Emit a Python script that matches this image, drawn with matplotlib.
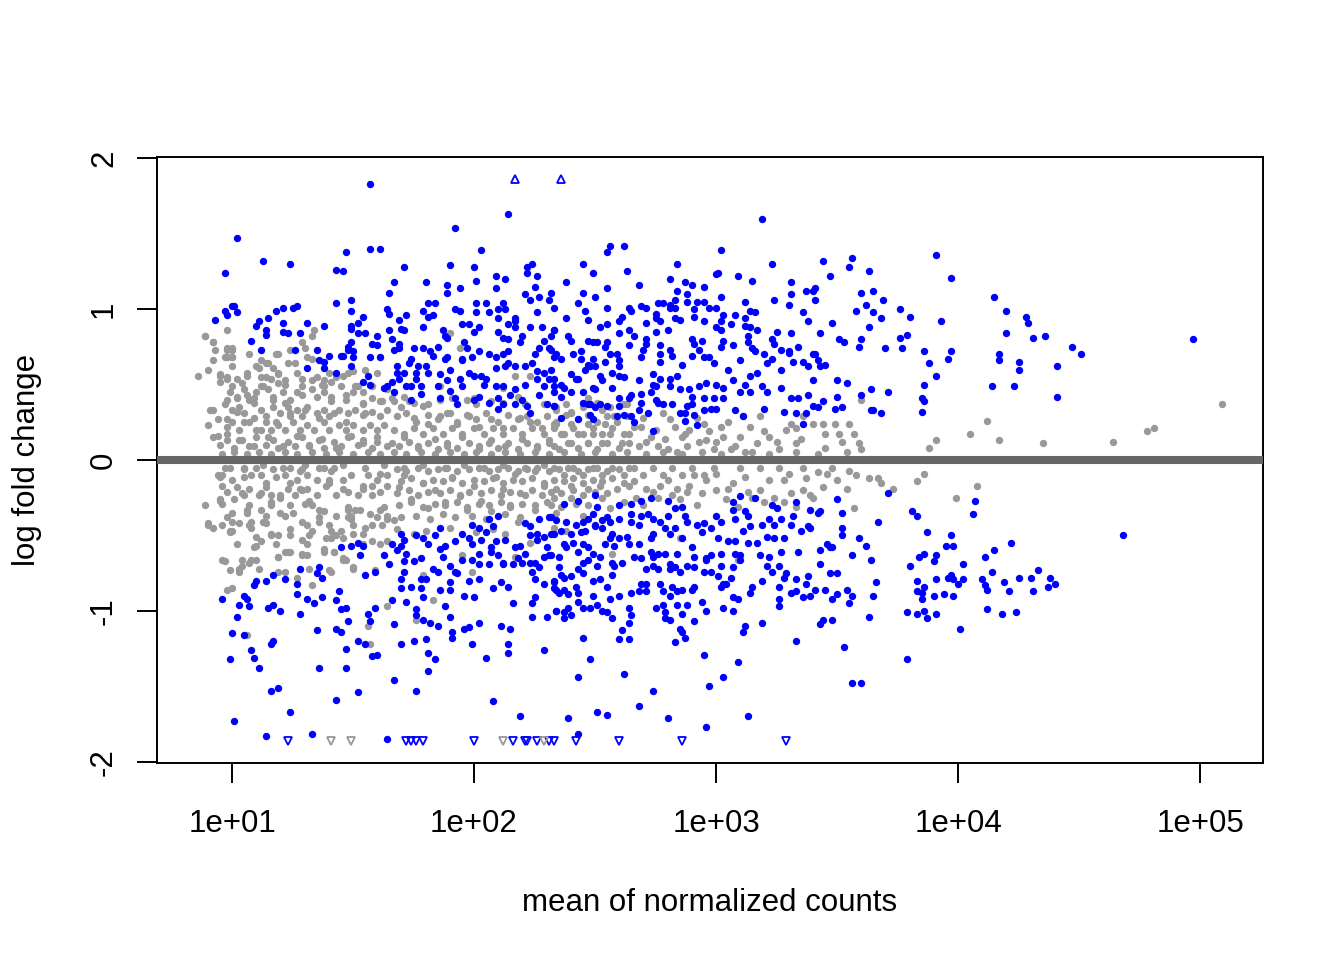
import numpy as np
import matplotlib.pyplot as plt
from matplotlib.ticker import NullLocator

plt.rcParams['font.family'] = ['Liberation Sans', 'DejaVu Sans']
plt.rcParams['axes.unicode_minus'] = False

# MA plot values: (log10 mean of normalized counts, log fold change)
gray_pts = [
    (0.86,0.56),(0.89,0.82),(0.92,0.78),(0.98,0.86),(0.93,0.73),(0.98,0.73),(1.00,0.73),(0.98,0.68),
    (1.00,0.68),(0.92,0.66),(0.90,0.60),(0.95,0.56),(0.98,0.54),(1.07,0.70),(1.02,0.54),(1.06,0.56),
    (1.00,0.49),(0.91,0.33),(0.90,0.23),(0.98,0.27),(1.02,0.41),(1.06,0.43),(1.02,0.32),(1.09,0.41),
    (1.11,0.61),(1.15,0.64),(1.18,0.70),(1.24,0.73),(1.26,0.64),(1.29,0.78),(1.30,0.74),(1.33,0.67),
    (1.34,0.86),(1.22,0.50),(1.13,0.49),(1.16,0.54),(1.19,0.57),(1.29,0.54),(1.33,0.53),(1.37,0.50),
    (1.38,0.45),(1.41,0.52),(1.46,0.56),(1.50,0.59),(1.55,0.60),(1.61,0.68),(1.51,0.49),(1.47,0.43),
    (1.41,0.39),(1.29,0.43),(1.22,0.38),(1.17,0.40),(1.09,0.28),(1.05,0.25),(1.12,0.20),(1.18,0.25),
    (1.24,0.31),(1.30,0.33),(1.36,0.28),(1.42,0.31),(1.47,0.25),(1.54,0.37),(1.55,0.31),(1.61,0.39),
    (1.66,0.41),(1.70,0.35),(1.73,0.39),(1.79,0.36),(1.75,0.28),(1.81,0.24),(1.86,0.29),(1.90,0.31),
    (1.93,0.24),(1.98,0.29),(2.02,0.22),(2.07,0.27),(2.12,0.21),(2.19,0.28),(2.23,0.25),(2.28,0.21),
    (2.33,0.24),(0.94,0.16),(0.98,0.17),(1.03,0.13),(1.09,0.09),(1.15,0.15),(1.21,0.09),(1.27,0.16),
    (1.32,0.09),(1.37,0.14),(1.43,0.08),(1.49,0.16),(1.54,0.11),(1.60,0.15),(1.66,0.11),(1.71,0.15),
    (1.77,0.09),(1.84,0.14),(1.89,0.09),(1.95,0.15),(2.02,0.09),(2.07,0.13),(2.13,0.09),(2.20,0.14),
    (2.26,0.09),(2.31,0.13),(1.90,0.84),(1.94,0.74),(2.17,0.56),(2.23,0.56),(2.00,0.41),(2.12,0.48),
    (2.21,0.37),(1.86,0.49),
    (0.89,-0.30),(0.90,-0.43),(0.92,-0.45),(0.95,-0.11),(0.96,-0.17),(0.95,-0.27),(0.98,-0.38),
    (0.97,-0.67),(0.98,-0.86),(1.00,-0.85),(0.99,-0.47),(1.02,-0.56),(1.03,-0.74),(1.00,-0.47),
    (1.02,-0.18),(1.04,-0.22),(1.06,-0.33),(1.08,-0.41),(1.10,-0.51),(1.08,-0.66),(1.10,-0.57),
    (1.04,-0.70),(1.12,-0.22),(1.14,-0.15),(1.16,-0.28),(1.14,-0.42),(1.16,-0.49),(1.18,-0.56),
    (1.19,-0.64),(1.19,-0.74),(1.22,-0.74),(1.22,-0.61),(1.24,-0.46),(1.22,-0.37),(1.20,-0.25),
    (1.24,-0.15),(1.28,-0.07),(1.29,-0.20),(1.32,-0.27),(1.33,-0.47),(1.31,-0.56),(1.29,-0.62),
    (1.33,-0.83),(1.27,-0.78),(1.36,-0.41),(1.38,-0.34),(1.40,-0.15),(1.41,-0.07),(1.46,-0.19),
    (1.48,-0.31),(1.49,-0.39),(1.45,-0.47),(1.41,-0.52),(1.38,-0.61),(1.41,-0.74),(1.50,-0.71),
    (1.46,-0.66),(1.55,-0.45),(1.51,-0.33),(1.54,-0.17),(1.58,-0.23),(1.61,-0.09),(1.60,-0.38),
    (1.63,-0.31),(1.67,-0.40),(1.69,-0.18),(1.71,-0.10),(1.74,-0.26),(1.79,-0.15),(1.81,-0.32),
    (1.84,-0.20),(1.88,-0.28),(1.91,-0.11),(1.94,-0.24),(1.97,-0.33),(2.00,-0.17),(2.03,-0.27),
    (2.07,-0.34),(2.12,-0.19),(2.15,-0.30),(2.18,-0.41),(2.21,-0.23),(2.25,-0.33),(2.29,-0.17),
    (2.32,-0.30),(2.09,-0.11),(2.17,-0.09),(2.25,-0.07),(1.56,-1.10),(1.57,-1.22),(1.64,-0.97),
    (1.76,-1.06),(1.83,-0.93),(1.79,-0.76),(1.95,-0.63),(1.99,-0.74),(2.17,-0.64),(2.23,-0.55),
    (2.13,-0.49),(1.59,-0.73),(1.46,-0.65),(1.75,-0.49),(1.06,-1.16),
    (0.97,-0.05),(1.05,-0.05),(1.13,-0.03),(1.21,-0.05),(1.30,-0.03),(1.38,-0.05),(1.46,-0.03),
    (1.55,-0.05),(1.63,-0.03),(1.71,-0.05),(1.79,-0.03),(1.88,-0.05),(1.96,-0.03),(2.04,-0.05),
    (2.12,-0.03),(2.21,-0.05),(2.29,-0.03),
    (2.47,0.41),(2.38,0.37),(2.34,0.33),(2.40,0.31),(2.53,0.33),(2.63,0.37),(2.58,0.29),(2.54,0.24),
    (2.47,0.24),(2.40,0.24),(2.34,0.24),(2.36,0.17),(2.43,0.17),(2.49,0.17),(2.56,0.17),(2.64,0.17),
    (2.69,0.22),(2.73,0.15),(2.61,0.11),(2.53,0.11),(2.47,0.11),(2.40,0.11),(2.33,0.09),(2.68,0.09),
    (2.76,0.09),(2.81,0.27),(2.86,0.15),(2.88,0.09),(2.95,0.24),(2.96,0.13),(3.03,0.15),(3.02,0.22),
    (3.06,0.07),(3.11,0.29),(3.14,0.22),(3.18,0.29),(3.17,0.11),(3.22,0.15),(3.26,0.07),(3.31,0.24),
    (3.33,0.21),(3.36,0.29),(3.40,0.24),(3.33,0.11),(3.44,0.24),(3.45,0.17),(3.49,0.24),(3.51,0.17),
    (3.55,0.24),(3.57,0.17),(3.59,0.11),(3.60,0.07),(3.60,0.40),(3.08,0.09),(2.99,0.07),(2.80,0.07),
    (2.89,0.20),
    (2.33,-0.05),(2.37,-0.10),(2.41,-0.05),(2.45,-0.10),(2.49,-0.05),(2.53,-0.10),(2.57,-0.05),
    (2.62,-0.10),(2.66,-0.05),(2.70,-0.10),(2.74,-0.05),(2.78,-0.10),(2.82,-0.05),(2.86,-0.10),
    (2.90,-0.05),(2.95,-0.10),(2.99,-0.05),(2.34,-0.19),(2.40,-0.17),(2.47,-0.19),(2.52,-0.17),
    (2.59,-0.19),(2.64,-0.17),(2.71,-0.19),(2.77,-0.17),(2.84,-0.19),(2.89,-0.17),(2.96,-0.13),
    (2.33,-0.25),(2.40,-0.25),(2.47,-0.30),(2.53,-0.25),(2.62,-0.28),(2.67,-0.25),(2.76,-0.25),
    (2.82,-0.23),(2.88,-0.21),(2.92,-0.30),(2.34,-0.35),(2.45,-0.37),(2.56,-0.32),(2.33,-0.45),
    (2.38,-0.47),(2.57,-0.62),(2.85,-0.52),(3.00,-0.20),(3.05,-0.19),(3.07,-0.15),(3.10,-0.05),
    (3.13,-0.21),(3.15,-0.25),(3.18,-0.20),(3.22,-0.13),(3.24,-0.25),(3.28,-0.13),(3.28,-0.28),
    (3.31,-0.22),(3.33,-0.31),(3.36,-0.20),(3.37,-0.12),(3.40,-0.25),(3.42,-0.08),(3.46,-0.09),
    (3.50,-0.13),(3.54,-0.19),(3.57,-0.32),(3.55,-0.07),(3.63,-0.12),(3.67,-0.12),(3.68,-0.15),
    (3.73,-0.19),(3.09,-0.31),(3.09,-0.66),(3.18,-0.05),(3.26,-0.05),(3.36,-0.05),(3.39,-0.23),
    (5.09,0.37),(4.81,0.21),(4.78,0.19),(4.64,0.12),(4.35,0.11),(4.17,0.13),(4.12,0.26),(4.05,0.17),
    (3.91,0.13),(3.88,0.08),(3.86,-0.09),(3.83,-0.14),(4.08,-0.17),(3.99,-0.25),
]

# the dense grey cloud at low and mid counts
gray_dense = [
    (0.89,0.82),(0.92,0.78),(0.98,0.74),(1.00,0.74),(0.97,0.68),(1.00,0.68),(1.19,0.70),(1.33,0.82),
    (0.95,0.57),(0.95,0.52),(0.98,0.55),(1.00,0.62),(1.04,0.51),(1.06,0.58),(1.10,0.62),(1.12,0.66),
    (1.14,0.64),(1.17,0.61),(1.12,0.55),(1.14,0.55),(1.19,0.58),(1.23,0.64),(1.27,0.58),(1.31,0.68),
    (1.35,0.55),(1.38,0.53),(1.40,0.58),(1.43,0.55),(1.48,0.58),(1.52,0.49),(1.54,0.45),(1.58,0.49),
    (1.60,0.58),(0.99,0.45),(1.02,0.42),(0.98,0.40),(1.05,0.47),(1.07,0.40),(1.10,0.45),(1.12,0.49),
    (1.15,0.47),(1.17,0.42),(1.19,0.51),(1.22,0.53),(1.21,0.45),(1.24,0.40),(1.27,0.45),(1.29,0.49),
    (1.33,0.47),(1.35,0.42),(1.38,0.49),(1.41,0.42),(1.45,0.49),(1.47,0.40),(1.50,0.45),(1.54,0.38),
    (1.58,0.41),(1.62,0.39),(1.64,0.47),(0.92,0.33),(0.97,0.37),(1.00,0.33),(1.03,0.35),(1.05,0.31),
    (1.09,0.38),(1.12,0.33),(1.14,0.29),(1.17,0.35),(1.20,0.31),(1.23,0.35),(1.24,0.29),(1.27,0.33),
    (1.29,0.29),(1.31,0.35),(1.35,0.31),(1.38,0.33),(1.40,0.29),(1.44,0.33),(1.48,0.31),(1.51,0.33),
    (1.54,0.30),(1.58,0.32),(1.61,0.29),(1.64,0.33),(0.94,0.27),(0.98,0.22),(1.00,0.25),(1.03,0.20),
    (1.07,0.25),(1.10,0.20),(1.14,0.25),(1.16,0.20),(1.19,0.23),(1.22,0.20),(1.25,0.25),(1.28,0.20),
    (1.31,0.23),(1.34,0.20),(1.38,0.25),(1.40,0.20),(1.44,0.23),(1.47,0.20),(1.50,0.23),(1.54,0.20),
    (1.57,0.23),(1.60,0.20),(1.63,0.23),(0.92,0.15),(0.95,0.10),(0.98,0.13),(1.01,0.08),(1.04,0.13),
    (1.07,0.09),(1.10,0.15),(1.14,0.10),(1.17,0.13),(1.19,0.08),(1.23,0.12),(1.26,0.09),(1.29,0.15),
    (1.32,0.10),(1.36,0.13),(1.38,0.08),(1.42,0.12),(1.45,0.09),(1.48,0.15),(1.52,0.10),(1.54,0.13),
    (1.58,0.08),(1.60,0.12),(1.64,0.09),
    (0.99,-0.05),(1.05,-0.06),(1.10,-0.05),(1.17,-0.06),(1.24,-0.05),(1.29,-0.06),(1.36,-0.05),
    (1.42,-0.05),(0.94,-0.10),(0.96,-0.10),(1.00,-0.13),(1.05,-0.11),(1.08,-0.10),(1.12,-0.10),
    (1.18,-0.11),(1.22,-0.10),(1.27,-0.13),(1.31,-0.10),(1.35,-0.13),(1.40,-0.13),(1.46,-0.13),
    (1.49,-0.10),(1.56,-0.10),(1.60,-0.13),(1.64,-0.10),(0.95,-0.26),(0.98,-0.21),(1.01,-0.26),
    (1.05,-0.23),(1.07,-0.19),(1.11,-0.23),(1.14,-0.18),(1.16,-0.23),(1.20,-0.23),(1.23,-0.19),
    (1.26,-0.23),(1.28,-0.19),(1.31,-0.19),(1.35,-0.23),(1.39,-0.17),(1.43,-0.23),(1.48,-0.21),
    (1.52,-0.23),(1.54,-0.19),(1.58,-0.17),(1.61,-0.21),(1.64,-0.17),(0.96,-0.29),(1.00,-0.35),
    (1.06,-0.35),(1.07,-0.30),(1.12,-0.33),(1.16,-0.30),(1.20,-0.35),(1.24,-0.30),(1.25,-0.35),
    (1.30,-0.29),(1.33,-0.30),(1.36,-0.33),(1.43,-0.37),(1.48,-0.33),(1.49,-0.37),(1.53,-0.33),
    (1.57,-0.36),(1.61,-0.33),(1.64,-0.37),(0.90,-0.42),(0.96,-0.43),(1.00,-0.41),(1.03,-0.42),
    (1.07,-0.43),(1.08,-0.45),(1.13,-0.41),(1.14,-0.37),(1.19,-0.50),(1.24,-0.50),(1.29,-0.41),
    (1.31,-0.43),(1.36,-0.38),(1.40,-0.43),(1.41,-0.47),(1.43,-0.50),(1.48,-0.38),(1.50,-0.43),
    (1.54,-0.49),(1.58,-0.43),(1.62,-0.43),(1.64,-0.39),(0.99,-0.48),(1.09,-0.58),(1.12,-0.54),
    (1.16,-0.50),(1.24,-0.61),(1.29,-0.53),(1.32,-0.50),(1.39,-0.52),(1.42,-0.61),(1.46,-0.52),
    (1.50,-0.49),(1.54,-0.56),(1.58,-0.54),(1.61,-0.56),(1.64,-0.54),(0.96,-0.66),(0.99,-0.73),
    (1.03,-0.72),(1.04,-0.66),(1.07,-0.68),(1.10,-0.66),(1.11,-0.72),(1.19,-0.64),(1.23,-0.61),
    (1.29,-0.63),(1.31,-0.63),(1.32,-0.72),(1.38,-0.59),(1.40,-0.73),(1.42,-0.61),(1.47,-0.66),
    (1.50,-0.72),
    (1.67,0.39),(1.71,0.42),(1.75,0.38),(1.81,0.37),(1.86,0.40),(1.91,0.41),(1.97,0.40),(2.01,0.37),
    (2.07,0.39),(2.12,0.38),(2.18,0.42),(2.29,0.37),(2.34,0.35),(2.40,0.32),(2.45,0.35),(2.51,0.38),
    (2.56,0.35),(2.62,0.37),(1.68,0.29),(1.72,0.31),(1.76,0.25),(1.81,0.30),(1.85,0.27),(1.89,0.31),
    (1.93,0.25),(1.97,0.30),(2.01,0.27),(2.05,0.31),(2.10,0.25),(2.14,0.30),(2.18,0.27),(2.22,0.29),
    (2.26,0.25),(2.30,0.29),(2.34,0.25),(2.38,0.30),(2.43,0.27),(2.47,0.30),(2.51,0.25),(2.55,0.29),
    (2.59,0.25),(2.63,0.29),(1.67,0.20),(1.71,0.17),(1.75,0.21),(1.79,0.17),(1.83,0.21),(1.87,0.17),
    (1.91,0.21),(1.95,0.17),(2.00,0.21),(2.04,0.17),(2.08,0.21),(2.12,0.17),(2.16,0.21),(2.20,0.17),
    (2.24,0.21),(2.29,0.17),(2.33,0.21),(2.37,0.17),(2.41,0.21),(2.45,0.17),(2.49,0.21),(2.53,0.17),
    (2.57,0.21),(2.62,0.17),(1.69,0.09),(1.73,0.12),(1.77,0.08),(1.81,0.11),(1.85,0.07),(1.89,0.11),
    (1.93,0.08),(1.98,0.11),(2.02,0.07),(2.06,0.11),(2.10,0.08),(2.14,0.11),(2.18,0.07),(2.22,0.11),
    (2.26,0.08),(2.31,0.11),(2.35,0.07),(2.39,0.11),(2.43,0.08),(2.47,0.11),(2.51,0.07),(2.55,0.11),
    (2.60,0.08),(2.64,0.11),
    (1.68,-0.06),(1.72,-0.07),(1.77,-0.05),(1.81,-0.07),(1.85,-0.06),(1.89,-0.05),(1.93,-0.07),
    (1.98,-0.06),(2.02,-0.05),(2.06,-0.07),(2.10,-0.06),(2.14,-0.05),(2.18,-0.07),(2.22,-0.06),
    (2.26,-0.05),(2.31,-0.07),(2.35,-0.06),(2.39,-0.05),(2.43,-0.07),(2.47,-0.06),(2.51,-0.05),
    (2.55,-0.07),(2.60,-0.06),(2.64,-0.05),(1.70,-0.14),(1.74,-0.12),(1.79,-0.15),(1.83,-0.13),
    (1.87,-0.14),(1.91,-0.12),(1.95,-0.15),(2.00,-0.13),(2.04,-0.14),(2.08,-0.12),(2.12,-0.15),
    (2.16,-0.13),(2.20,-0.14),(2.24,-0.12),(2.29,-0.15),(2.33,-0.13),(2.37,-0.14),(2.41,-0.12),
    (2.45,-0.15),(2.49,-0.13),(2.53,-0.14),(2.57,-0.12),(2.62,-0.15),(1.68,-0.22),(1.73,-0.20),
    (1.77,-0.23),(1.81,-0.21),(1.86,-0.22),(1.90,-0.20),(1.94,-0.23),(1.98,-0.21),(2.03,-0.22),
    (2.07,-0.20),(2.11,-0.23),(2.15,-0.21),(2.19,-0.22),(2.24,-0.20),(2.28,-0.23),(2.32,-0.21),
    (2.36,-0.22),(2.41,-0.20),(2.45,-0.23),(2.50,-0.21),(2.55,-0.22),(1.69,-0.30),(1.74,-0.28),
    (1.79,-0.31),(1.84,-0.29),(1.88,-0.30),(1.93,-0.28),(1.97,-0.31),(2.02,-0.29),(2.06,-0.30),
    (2.11,-0.28),(2.15,-0.31),(2.20,-0.29),(2.25,-0.30),(2.30,-0.28),(2.36,-0.31),(2.42,-0.29),
    (1.70,-0.38),(1.76,-0.37),(1.82,-0.39),(1.87,-0.36),(1.92,-0.38),(1.99,-0.37),(2.05,-0.39),
    (2.13,-0.36),(2.19,-0.38),(1.68,-0.46),(1.80,-0.47),(1.90,-0.45),(2.01,-0.48),(2.08,-0.46),
    (2.66,0.22),(2.70,0.28),(2.75,0.20),(2.78,0.31),(2.83,0.22),(2.87,0.17),(2.92,0.28),(2.97,0.19),
    (3.00,0.12),(3.05,0.25),(3.10,0.15),(3.15,0.05),(2.71,0.12),(2.79,0.14),(2.84,0.05),(2.93,0.12),
    (3.20,0.19),(3.25,0.12),(3.29,0.20),(3.35,0.14),(3.45,0.08),(3.52,0.12),
    (3.00,-0.09),(3.04,-0.26),(3.12,-0.11),(3.20,-0.28),(3.30,-0.09),(3.44,-0.18),(3.48,-0.05),
    (3.58,-0.10),(2.66,-0.14),(2.74,-0.21),(2.80,-0.13),(2.91,-0.10),(2.94,-0.22),(2.70,-0.30),
    (2.85,-0.26),
    (0.96,0.04),(1.01,0.05),(1.06,0.04),(1.11,0.05),(1.16,0.04),(1.22,0.05),(1.27,0.04),(1.33,0.05),
    (1.39,0.04),(1.44,0.05),(1.50,0.04),(1.56,0.05),(1.61,0.04),(1.67,0.05),(1.72,0.04),(1.78,0.05),
    (1.84,0.04),(1.90,0.05),(1.96,0.04),(2.01,0.05),(2.07,0.04),(2.13,0.05),(2.19,0.04),(2.25,0.05),
    (2.31,0.04),(2.37,0.05),(2.44,0.04),(2.50,0.05),(2.57,0.04),(2.63,0.05),(2.71,0.04),(2.78,0.05),
    (2.86,0.04),(2.94,0.05),(3.02,0.04),(3.12,0.05),(3.22,0.04),(3.33,0.05),(3.42,0.04),(3.54,0.05),
]

blue_pts = [
    # up, low counts
    (1.57,1.83),(2.14,1.63),(1.92,1.54),(1.02,1.47),(1.57,1.40),(1.61,1.40),(2.03,1.39),(1.47,1.38),
    (1.13,1.32),(1.24,1.30),(0.97,1.24),(1.43,1.26),(1.46,1.25),(1.71,1.28),(1.90,1.29),(2.00,1.28),
    (2.22,1.28),(2.24,1.30),(2.22,1.24),(2.26,1.22),(2.09,1.22),(2.13,1.20),(2.01,1.19),(1.67,1.18),
    (1.80,1.18),(1.89,1.16),(2.25,1.15),(1.94,1.14),(2.09,1.14),(1.65,1.11),(1.89,1.11),(2.21,1.10),
    (2.32,1.11),(2.27,1.08),(2.23,1.06),(1.43,1.04),(1.49,1.06),(1.81,1.04),(1.84,1.04),(2.01,1.04),
    (2.05,1.04),(2.12,1.04),(2.31,1.06),(1.21,1.01),(1.25,1.01),(1.27,1.02),(1.01,1.02),(1.00,1.02),
    (0.97,0.99),(1.02,0.98),(0.98,0.96),(1.18,0.99),(1.49,0.99),(1.64,1.00),(1.65,0.97),(1.79,0.99),
    (1.83,0.96),(1.92,1.00),(1.94,0.99),(2.10,1.00),(2.13,1.00),(2.26,0.98),(2.01,0.98),(2.06,0.98),
    (0.93,0.93),(1.15,0.94),(1.21,0.91),(1.31,0.91),(1.38,0.89),(1.11,0.92),(1.10,0.89),(1.52,0.91),
    (1.54,0.95),(1.69,0.93),(1.72,0.96),(1.81,0.95),(2.10,0.94),(2.14,0.90),(2.17,0.94),(2.17,0.92),
    (1.95,0.90),(1.98,0.90),(1.14,0.86),(1.14,0.83),(1.21,0.85),(1.23,0.84),(1.28,0.84),(1.49,0.87),
    (1.49,0.89),(1.52,0.84),(1.55,0.84),(1.65,0.86),(1.70,0.87),(1.71,0.86),(1.79,0.88),(1.87,0.86),
    (1.88,0.82),(1.89,0.81),(2.00,0.85),(2.02,0.88),(2.10,0.85),(2.12,0.81),(2.14,0.80),(2.17,0.88),
    (2.20,0.82),(2.23,0.88),(2.28,0.88),(2.33,0.86),(1.08,0.79),(1.60,0.82),(1.66,0.80),(1.69,0.77),
    (1.58,0.77),(1.60,0.76),(1.49,0.78),(1.48,0.75),(1.48,0.73),(1.50,0.72),(1.50,0.68),(1.46,0.69),
    (1.49,0.62),(1.45,0.69),(1.40,0.69),(1.38,0.65),(1.38,0.61),(1.36,0.66),(1.35,0.73),(1.31,0.61),
    (1.26,0.73),(1.12,0.73),(1.43,0.58),(1.57,0.68),(1.61,0.68),(1.67,0.73),(1.69,0.74),(1.75,0.74),
    (1.79,0.74),(1.82,0.72),(1.85,0.75),(1.83,0.69),(1.88,0.67),(1.89,0.68),(1.95,0.67),(1.95,0.66),
    (1.96,0.78),(1.97,0.74),(1.99,0.68),(2.02,0.72),(2.06,0.70),(2.09,0.68),(2.12,0.70),(2.14,0.72),
    (2.19,0.78),(2.25,0.70),(2.27,0.74),(2.29,0.79),(2.31,0.74),(2.33,0.68),(1.74,0.67),(1.73,0.64),
    (1.77,0.62),(1.80,0.62),(1.68,0.62),(1.68,0.58),(1.71,0.58),(1.76,0.58),(1.81,0.58),(1.86,0.57),
    (1.90,0.60),(1.98,0.58),(2.03,0.56),(2.05,0.54),(2.09,0.61),(2.13,0.62),(2.14,0.64),(2.17,0.62),
    (2.21,0.62),(2.24,0.64),(2.26,0.59),(2.29,0.58),(2.32,0.60),(1.56,0.56),(1.54,0.52),(1.57,0.50),
    (1.66,0.52),(1.69,0.54),(1.76,0.54),(1.78,0.49),(1.85,0.49),(1.89,0.53),(1.94,0.54),(1.95,0.49),
    (2.00,0.56),(2.04,0.50),(2.09,0.49),(2.12,0.49),(2.17,0.47),(2.21,0.50),(2.26,0.54),(2.29,0.49),
    (2.33,0.54),(1.64,0.49),(1.63,0.48),(1.67,0.45),(1.72,0.49),(1.74,0.49),(1.78,0.44),(1.86,0.41),
    (1.90,0.46),(1.92,0.41),(1.93,0.37),(2.00,0.40),(2.02,0.42),(2.06,0.38),(2.10,0.41),(2.12,0.37),
    (2.15,0.43),(2.17,0.37),(2.20,0.40),(2.22,0.36),(2.23,0.31),(2.27,0.43),(2.30,0.37),(2.33,0.36),
    (1.74,0.40),(2.10,0.34),
    # up, mid counts
    (3.19,1.60),(2.56,1.42),(2.55,1.38),(2.62,1.42),(3.02,1.39),(2.45,1.30),(2.84,1.30),(3.23,1.30),
    (3.44,1.32),(3.56,1.34),(3.55,1.28),(2.49,1.24),(2.63,1.25),(3.00,1.23),(3.01,1.24),(3.09,1.22),
    (3.47,1.22),(3.63,1.25),(2.38,1.18),(2.81,1.20),(2.87,1.18),(3.15,1.19),(3.31,1.18),(2.68,1.16),
    (2.90,1.16),(2.95,1.15),(2.55,1.14),(2.45,1.11),(2.84,1.12),(2.88,1.10),(3.31,1.10),(3.37,1.12),
    (3.40,1.12),(3.41,1.14),(3.60,1.11),(3.65,1.12),(2.50,1.08),(2.43,1.04),(2.76,1.04),(2.78,1.04),
    (2.81,1.03),(2.83,1.06),(2.88,1.05),(2.92,1.05),(2.95,1.05),(3.02,1.08),(3.12,1.05),(3.24,1.06),
    (3.30,1.03),(3.41,1.06),(3.62,1.03),(3.69,1.06),(2.33,1.01),(2.46,0.99),(2.55,1.01),(2.64,1.01),
    (2.65,0.99),(2.69,1.02),(2.71,1.01),(2.75,0.97),(2.75,0.94),(2.77,0.92),(2.81,1.01),(2.83,1.01),
    (2.91,1.00),(2.91,0.95),(2.97,1.01),(3.00,1.01),(3.03,0.96),(3.08,0.96),(3.14,0.99),(3.16,0.98),
    (3.36,0.98),(3.58,0.99),(3.65,0.98),(3.76,1.00),(2.38,0.94),(2.47,0.93),(2.60,0.92),(2.61,0.95),
    (2.71,0.91),(2.83,0.94),(2.85,0.93),(2.95,0.92),(3.02,0.92),(3.06,0.90),(3.12,0.94),(3.38,0.92),
    (3.48,0.91),(3.68,0.94),(2.33,0.86),(2.52,0.88),(2.55,0.90),(2.60,0.84),(2.64,0.86),(2.66,0.82),
    (2.75,0.85),(2.80,0.86),(3.00,0.88),(3.02,0.86),(3.12,0.89),(3.14,0.88),(3.17,0.86),(3.25,0.85),
    (3.31,0.84),(3.43,0.84),(3.63,0.88),(2.32,0.82),(2.39,0.82),(2.40,0.79),(2.47,0.79),(2.49,0.78),
    (2.51,0.78),(2.54,0.75),(2.55,0.78),(2.64,0.76),(2.71,0.80),(2.71,0.77),(2.77,0.76),(2.81,0.73),
    (2.90,0.80),(2.91,0.77),(2.93,0.73),(2.94,0.79),(3.03,0.79),(3.02,0.75),(3.07,0.76),(3.13,0.82),
    (3.13,0.78),(3.15,0.74),(3.16,0.72),(3.23,0.80),(3.24,0.77),(3.27,0.73),(3.30,0.72),(3.34,0.75),
    (3.51,0.80),(3.53,0.78),(3.60,0.80),(3.59,0.75),(3.70,0.74),(3.77,0.74),(3.86,0.72),(3.79,0.83),
    (3.76,0.81),(2.32,0.73),(2.34,0.70),(2.36,0.67),(2.41,0.70),(2.44,0.72),(2.44,0.67),(2.49,0.67),
    (2.56,0.70),(2.59,0.70),(2.60,0.66),(2.54,0.65),(2.60,0.62),(2.69,0.68),(2.70,0.73),(2.77,0.70),
    (2.77,0.65),(2.82,0.69),(2.86,0.63),(2.90,0.69),(2.95,0.68),(2.97,0.68),(2.99,0.64),(3.05,0.60),
    (3.10,0.66),(3.14,0.56),(3.17,0.58),(3.20,0.70),(3.21,0.64),(3.23,0.67),(3.27,0.60),(3.30,0.71),
    (3.32,0.65),(3.36,0.65),(3.38,0.62),(3.40,0.70),(3.41,0.70),(3.42,0.66),(3.43,0.62),(3.45,0.63),
    (3.50,0.53),(3.54,0.51),(2.31,0.54),(2.33,0.49),(2.36,0.50),(2.37,0.48),(2.40,0.57),(2.42,0.54),
    (2.43,0.54),(2.46,0.60),(2.47,0.63),(2.48,0.62),(2.50,0.62),(2.52,0.56),(2.53,0.53),(2.57,0.58),
    (2.60,0.56),(2.62,0.55),(2.68,0.53),(2.74,0.57),(2.74,0.50),(2.75,0.49),(2.77,0.54),(2.81,0.49),
    (2.81,0.54),(2.84,0.56),(2.85,0.47),(2.89,0.47),(2.93,0.49),(2.96,0.51),(3.00,0.50),(3.03,0.48),
    (3.07,0.53),(3.10,0.45),(3.12,0.50),(3.14,0.45),(3.19,0.49),(3.21,0.45),(3.27,0.48),(3.31,0.41),
    (3.34,0.41),(3.38,0.43),(3.40,0.53),(3.50,0.42),(3.60,0.43),(3.64,0.47),(3.71,0.45),(2.33,0.45),
    (2.36,0.42),(2.40,0.45),(2.45,0.45),(2.49,0.48),(2.50,0.47),(2.57,0.48),(2.60,0.41),(2.64,0.41),
    (2.65,0.43),(2.69,0.44),(2.69,0.38),(2.73,0.45),(2.75,0.40),(2.76,0.38),(2.78,0.37),(2.82,0.37),
    (2.88,0.36),(2.90,0.42),(2.90,0.37),(2.95,0.41),(2.99,0.41),(3.03,0.41),(2.98,0.34),(3.00,0.34),
    (3.08,0.33),(3.20,0.34),(3.28,0.32),(3.33,0.31),(3.37,0.31),(3.40,0.36),(3.42,0.35),(3.44,0.39),
    (3.49,0.34),(3.52,0.35),(3.64,0.33),(3.65,0.33),(3.68,0.31),(2.33,0.36),(2.36,0.28),(2.45,0.38),
    (2.48,0.37),(2.50,0.35),(2.52,0.37),(2.55,0.36),(2.59,0.29),(2.60,0.36),(2.62,0.30),(2.65,0.29),
    (2.66,0.25),(2.68,0.33),(2.72,0.31),(2.74,0.19),(2.85,0.31),(2.87,0.26),(2.87,0.31),(2.91,0.30),
    (2.92,0.23),(2.95,0.33),(3.11,0.29),(2.48,0.30),(2.49,0.27),(2.43,0.27),(3.36,0.24),(2.47,0.37),
    # up, high counts
    (3.91,1.36),(3.97,1.21),(3.80,0.95),(3.93,0.92),(3.97,0.72),(3.96,0.67),(3.88,0.64),(3.91,0.56),
    (3.86,0.50),(3.85,0.41),(3.86,0.39),(3.85,0.32),(4.15,1.08),(4.20,0.99),(4.28,0.95),(4.29,0.91),
    (4.20,0.84),(4.31,0.81),(4.36,0.82),(4.47,0.75),(4.51,0.70),(4.17,0.70),(4.17,0.66),(4.25,0.65),
    (4.25,0.60),(4.41,0.62),(4.14,0.49),(4.23,0.49),(4.41,0.42),(4.97,0.80),
    # down, low counts
    (0.96,-0.92),(0.99,-1.32),(1.00,-1.15),(1.01,-1.73),(1.02,-1.04),(1.03,-0.96),(1.05,-0.90),
    (1.06,-0.92),(1.07,-0.97),(1.05,-1.16),(1.08,-1.26),(1.09,-1.31),(1.11,-1.38),(1.14,-1.83),
    (1.16,-1.53),(1.19,-1.51),(1.15,-0.98),(1.17,-0.96),(1.20,-1.00),(1.16,-1.22),(1.17,-1.20),
    (1.24,-1.67),(1.33,-1.82),(1.28,-1.02),(1.27,-0.89),(1.31,-0.92),(1.34,-0.95),(1.37,-0.91),
    (1.35,-1.13),(1.36,-1.38),(1.43,-0.93),(1.44,-0.87),(1.45,-0.99),(1.47,-0.98),(1.43,-1.12),
    (1.45,-1.14),(1.48,-1.07),(1.47,-1.25),(1.47,-1.38),(1.43,-1.59),(1.52,-1.54),(1.52,-1.20),
    (1.55,-1.22),(1.56,-1.02),(1.57,-1.07),(1.59,-0.98),(1.58,-1.30),(1.60,-1.29),(1.66,-0.93),
    (1.67,-1.09),(1.67,-1.46),(1.70,-1.22),(1.72,-0.94),(1.75,-1.20),(1.76,-1.53),(1.76,-0.99),
    (1.76,-1.03),(1.79,-0.91),(1.80,-1.19),(1.81,-1.28),(1.81,-1.40),(1.84,-1.32),(1.79,-1.06),
    (1.82,-1.08),(1.85,-1.10),(1.88,-0.97),(1.90,-1.04),(1.91,-1.14),(1.91,-1.18),(1.96,-1.12),
    (1.98,-1.11),(1.99,-1.22),(2.02,-1.08),(2.05,-1.31),(2.08,-1.60),(2.11,-1.10),(2.14,-1.28),
    (2.14,-1.22),(2.16,-0.95),(2.15,-1.12),(2.19,-1.70),(2.24,-0.95),(2.25,-0.91),(2.24,-1.04),
    (2.30,-1.04),(2.29,-1.26),(2.34,-1.00),(1.09,-0.83),(1.10,-0.80),(1.14,-0.80),(1.17,-0.76),
    (1.22,-0.79),(1.28,-0.72),(1.27,-0.82),(1.35,-0.75),(1.36,-0.71),(1.37,-0.78),(1.45,-0.58),
    (1.49,-0.57),(1.52,-0.55),(1.53,-0.63),(1.54,-0.57),(1.55,-0.76),(1.59,-0.74),(1.63,-0.63),
    (1.65,-0.69),(1.68,-0.60),(1.66,-0.56),(1.70,-0.57),(1.70,-0.49),(1.72,-0.62),(1.71,-0.67),
    (1.75,-0.67),(1.78,-0.65),(1.71,-0.74),(1.70,-0.79),(1.70,-0.85),(1.74,-0.84),(1.78,-0.79),
    (1.80,-0.79),(1.78,-0.85),(1.83,-0.72),(1.85,-0.74),(1.87,-0.64),(1.86,-0.59),(1.88,-0.57),
    (1.92,-0.54),(1.95,-0.49),(1.98,-0.52),(1.99,-0.56),(1.90,-0.70),(1.92,-0.74),(1.93,-0.75),
    (1.95,-0.66),(1.99,-0.66),(2.02,-0.62),(2.02,-0.69),(1.98,-0.80),(2.02,-0.79),(2.06,-0.69),
    (2.07,-0.61),(2.10,-0.63),(2.12,-0.69),(2.12,-0.68),(2.16,-0.69),(2.08,-0.85),(2.11,-0.81),
    (2.14,-0.84),(1.90,-0.81),(1.86,-0.86),(1.90,-0.86),(1.96,-0.90),(2.00,-0.91),(1.76,-0.50),
    (1.79,-0.52),(1.81,-0.56),(1.84,-0.50),(1.86,-0.45),(1.71,-0.53),(1.99,-0.43),(2.02,-0.45),
    (2.06,-0.39),(2.10,-0.37),(2.08,-0.44),(2.05,-0.48),(2.03,-0.53),(2.09,-0.54),(2.07,-0.58),
    (2.13,-0.53),(2.17,-0.58),(2.19,-0.57),(2.21,-0.42),(2.23,-0.44),(2.26,-0.49),(2.26,-0.53),
    (2.29,-0.51),(2.30,-0.58),(2.31,-0.63),(2.27,-0.39),(2.31,-0.38),(2.33,-0.49),(2.23,-0.68),
    (2.25,-0.68),(2.27,-0.71),(2.29,-0.64),(2.24,-0.74),(2.25,-0.79),(2.29,-0.82),(2.33,-0.81),
    (2.34,-0.86),(2.20,-0.68),(2.21,-0.62),(2.18,-0.65),(2.23,-0.50),(1.64,-1.85),
    # down, mid counts
    (2.37,-0.29),(2.43,-0.27),(2.50,-0.23),(2.51,-0.31),(2.60,-0.30),(2.65,-0.29),(2.69,-0.27),
    (2.73,-0.25),(2.80,-0.27),(2.83,-0.32),(2.86,-0.31),(3.07,-0.28),(3.10,-0.24),(3.07,-0.33),
    (3.16,-0.25),(3.23,-0.30),(3.25,-0.32),(3.33,-0.28),(3.39,-0.33),(3.50,-0.26),(3.52,-0.35),
    (3.71,-0.22),(2.32,-0.38),(2.34,-0.40),(2.38,-0.41),(2.42,-0.43),(2.45,-0.41),(2.47,-0.39),
    (2.49,-0.36),(2.50,-0.43),(2.53,-0.40),(2.55,-0.38),(2.56,-0.41),(2.60,-0.39),(2.65,-0.36),
    (2.65,-0.41),(2.68,-0.43),(2.69,-0.37),(2.72,-0.36),(2.74,-0.39),(2.77,-0.41),(2.80,-0.37),
    (2.87,-0.37),(2.88,-0.41),(2.92,-0.43),(2.95,-0.42),(3.00,-0.37),(3.02,-0.41),(3.08,-0.39),
    (3.12,-0.34),(3.13,-0.37),(3.19,-0.43),(3.22,-0.39),(3.24,-0.43),(3.27,-0.39),(3.31,-0.43),
    (3.32,-0.37),(3.42,-0.35),(3.43,-0.34),(3.52,-0.45),(3.67,-0.41),(2.32,-0.49),(2.36,-0.47),
    (2.40,-0.49),(2.44,-0.48),(2.46,-0.47),(2.50,-0.44),(2.53,-0.45),(2.57,-0.49),(2.60,-0.52),
    (2.63,-0.51),(2.64,-0.56),(2.68,-0.56),(2.74,-0.49),(2.73,-0.52),(2.79,-0.45),(2.81,-0.49),
    (2.86,-0.52),(2.83,-0.45),(2.94,-0.48),(2.98,-0.45),(3.01,-0.52),(3.05,-0.54),(3.08,-0.54),
    (3.11,-0.47),(3.13,-0.55),(3.14,-0.44),(3.17,-0.55),(3.21,-0.51),(3.24,-0.52),(3.28,-0.52),
    (3.35,-0.47),(3.38,-0.44),(3.39,-0.45),(3.46,-0.56),(3.48,-0.58),(3.52,-0.50),(3.59,-0.52),
    (3.62,-0.57),(2.32,-0.63),(2.35,-0.64),(2.37,-0.56),(2.38,-0.58),(2.41,-0.55),(2.43,-0.61),
    (2.45,-0.56),(2.47,-0.58),(2.49,-0.62),(2.47,-0.66),(2.52,-0.64),(2.54,-0.56),(2.56,-0.52),
    (2.57,-0.68),(2.58,-0.57),(2.61,-0.68),(2.66,-0.64),(2.69,-0.65),(2.73,-0.61),(2.74,-0.64),
    (2.76,-0.62),(2.79,-0.62),(2.84,-0.62),(2.90,-0.58),(2.91,-0.64),(2.96,-0.65),(2.98,-0.63),
    (3.02,-0.62),(3.08,-0.62),(3.10,-0.63),(3.10,-0.66),(3.18,-0.63),(3.22,-0.64),(3.27,-0.61),
    (3.34,-0.61),(3.43,-0.60),(3.47,-0.58),(3.56,-0.63),(3.64,-0.66),(2.33,-0.80),(2.35,-0.71),
    (2.36,-0.76),(2.37,-0.78),(2.40,-0.77),(2.43,-0.72),(2.45,-0.68),(2.45,-0.75),(2.49,-0.80),
    (2.51,-0.70),(2.52,-0.79),(2.57,-0.76),(2.58,-0.70),(2.69,-0.82),(2.71,-0.72),(2.74,-0.70),
    (2.76,-0.72),(2.77,-0.82),(2.81,-0.72),(2.81,-0.69),(2.83,-0.71),(2.85,-0.74),(2.88,-0.70),
    (2.91,-0.71),(2.95,-0.74),(2.96,-0.66),(2.98,-0.74),(3.01,-0.77),(3.02,-0.70),(3.03,-0.82),
    (3.06,-0.78),(3.07,-0.71),(3.15,-0.84),(3.19,-0.80),(3.21,-0.70),(3.23,-0.74),(3.26,-0.70),
    (3.28,-0.78),(3.29,-0.75),(3.33,-0.79),(3.37,-0.82),(3.38,-0.77),(3.43,-0.69),(3.47,-0.75),
    (3.50,-0.75),(3.66,-0.81),(2.33,-0.85),(2.35,-0.88),(2.37,-0.86),(2.39,-0.89),(2.42,-0.84),
    (2.43,-0.88),(2.49,-0.90),(2.55,-0.84),(2.56,-0.92),(2.60,-0.90),(2.65,-0.88),(2.68,-0.87),
    (2.71,-0.87),(2.71,-0.82),(2.78,-0.87),(2.81,-0.90),(2.82,-0.84),(2.84,-0.87),(2.86,-0.86),
    (2.90,-0.86),(2.91,-0.84),(3.02,-0.84),(3.04,-0.82),(3.07,-0.91),(3.09,-0.92),(3.14,-0.88),
    (3.26,-0.84),(3.26,-0.92),(3.31,-0.88),(3.33,-0.87),(3.36,-0.91),(3.39,-0.90),(3.41,-0.86),
    (3.45,-0.86),(3.48,-0.92),(3.50,-0.89),(3.54,-0.86),(3.56,-0.90),(3.55,-0.95),(3.65,-0.90),
    (2.34,-1.00),(2.37,-1.01),(2.37,-1.05),(2.40,-1.03),(2.39,-0.98),(2.43,-0.94),(2.45,-0.98),
    (2.48,-0.98),(2.51,-0.96),(2.53,-1.00),(2.55,-1.01),(2.57,-1.05),(2.64,-0.98),(2.65,-1.03),
    (2.64,-1.08),(2.75,-0.98),(2.78,-0.96),(2.79,-1.01),(2.79,-1.05),(2.81,-1.06),(2.84,-0.96),
    (2.86,-1.02),(2.88,-0.96),(2.91,-1.07),(2.94,-0.94),(2.96,-1.00),(3.03,-0.98),(3.07,-1.00),
    (3.12,-1.10),(3.11,-1.14),(3.19,-1.08),(3.26,-0.97),(3.43,-1.09),(3.44,-1.06),(3.48,-1.06),
    (3.63,-1.04),(2.61,-1.13),(2.64,-1.19),(2.60,-1.19),(2.45,-1.18),(2.48,-1.32),(2.43,-1.44),
    (2.62,-1.42),(2.74,-1.53),(2.68,-1.63),(2.51,-1.67),(2.55,-1.69),(2.39,-1.71),(2.43,-1.82),
    (2.80,-1.71),(2.85,-1.12),(2.86,-1.14),(2.83,-1.21),(2.87,-1.18),(2.95,-1.29),(2.97,-1.50),
    (2.96,-1.77),(3.03,-1.44),(3.09,-1.34),(3.13,-1.70),(3.33,-1.20),(3.53,-1.24),(3.56,-1.48),
    (3.60,-1.48),
    # down, high counts
    (4.07,-0.27),(4.06,-0.36),(3.81,-0.34),(3.83,-0.37),(4.68,-0.50),(3.87,-0.48),(3.97,-0.50),
    (4.22,-0.55),(3.95,-0.57),(3.98,-0.57),(4.15,-0.60),(4.11,-0.64),(3.91,-0.63),(3.84,-0.64),
    (3.86,-0.62),(3.90,-0.67),(3.80,-0.70),(4.02,-0.69),(4.14,-0.74),(4.33,-0.73),(3.83,-0.80),
    (3.91,-0.79),(3.96,-0.78),(3.97,-0.76),(3.98,-0.79),(4.02,-0.79),(4.00,-0.82),(4.10,-0.79),
    (4.11,-0.83),(4.12,-0.86),(4.19,-0.81),(4.25,-0.78),(4.30,-0.78),(4.38,-0.78),(4.40,-0.82),
    (4.37,-0.84),(4.31,-0.87),(4.21,-0.87),(3.83,-0.87),(3.85,-0.88),(3.86,-0.84),(3.85,-0.92),
    (3.90,-0.90),(3.94,-0.89),(3.98,-0.90),(3.79,-1.01),(3.83,-1.02),(3.86,-1.00),(3.87,-1.05),
    (3.91,-1.02),(4.12,-0.99),(4.18,-1.02),(4.24,-1.01),(4.01,-1.12),(3.79,-1.32),
]

# genes outside the y range, drawn as open triangles at the clip value
clip_lfc = 1.86
up_blue_x = [2.17, 2.36]
down_blue_x = [1.23, 1.72, 1.74, 1.76, 1.79, 2.00, 2.16, 2.21, 2.22, 2.26, 2.31, 2.33,
               2.42, 2.60, 2.86, 3.29]
down_gray_x = [1.41, 1.49, 2.12, 2.29]

gray = np.array(gray_pts + gray_dense)
blue = np.array(blue_pts)

fig = plt.figure(figsize=(13.44, 9.6), dpi=100)
ax = fig.add_axes([157/1344, 197/960, 1106/1344, 606/960])

ax.plot(10**gray[:, 0], gray[:, 1], 'o', color='#999999', ms=5.3, mew=0, ls='none')
ax.plot(10**blue[:, 0], blue[:, 1], 'o', color='#0000ff', ms=5.3, mew=0, ls='none')
ax.plot(10**np.array(up_blue_x), [clip_lfc]*len(up_blue_x), '^', mfc='none', mec='#0000ff',
        ms=6.2, mew=1.3, ls='none')
ax.plot(10**np.array(down_blue_x), [-clip_lfc]*len(down_blue_x), 'v', mfc='none', mec='#0000ff',
        ms=6.2, mew=1.3, ls='none')
ax.plot(10**np.array(down_gray_x), [-clip_lfc]*len(down_gray_x), 'v', mfc='none', mec='#999999',
        ms=6.2, mew=1.3, ls='none')
ax.axhline(0, color='#666666', lw=5.8, zorder=5)

ax.set_xscale('log')
ax.set_xlim(10**0.69, 10**5.26)
ax.set_ylim(-2.009, 2.009)
ax.set_xticks([1e1, 1e2, 1e3, 1e4, 1e5])
ax.set_xticklabels(['1e+01', '1e+02', '1e+03', '1e+04', '1e+05'])
ax.xaxis.set_minor_locator(NullLocator())
ax.set_yticks([-2, -1, 0, 1, 2])
ax.set_yticklabels(['-2', '-1', '0', '1', '2'], rotation=90, va='center')

for s in ax.spines.values():
    s.set_linewidth(1.4)
ax.tick_params(axis='both', length=14.4, width=1.4, labelsize=22.5)
ax.tick_params(axis='x', pad=19)
ax.tick_params(axis='y', pad=13)

fig.text(710/1344, 1 - 911/960, 'mean of normalized counts', fontsize=22.5, ha='center', va='baseline')
fig.text(27/1344, 1 - 460/960, 'log fold change', fontsize=22.5, rotation=90, ha='center', va='center')

plt.savefig('out.png', dpi=100)
